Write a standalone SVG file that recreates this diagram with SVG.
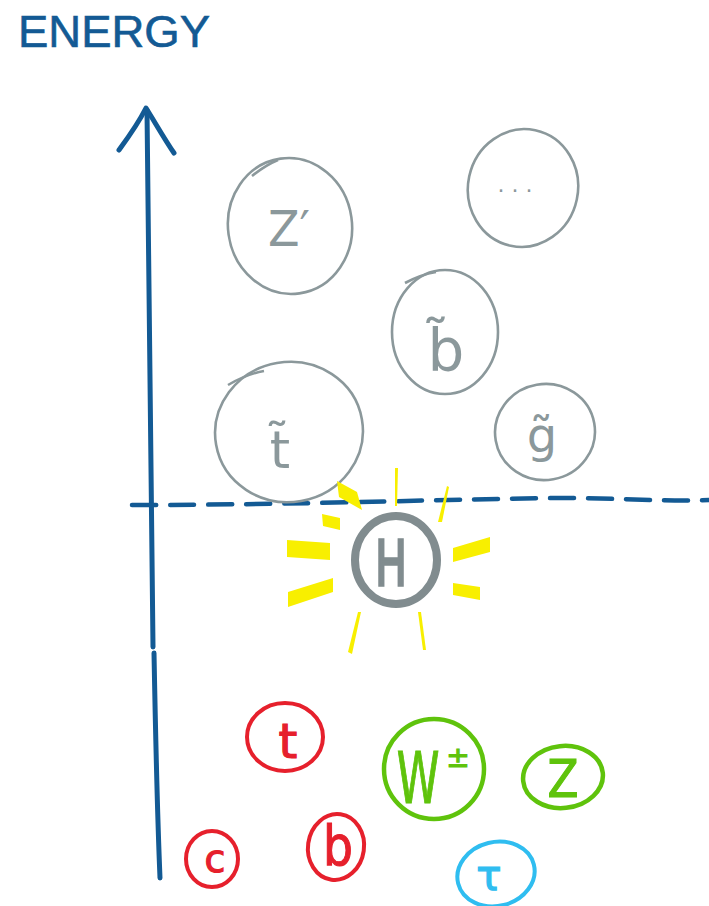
<svg xmlns="http://www.w3.org/2000/svg" width="709" height="906" viewBox="0 0 709 906">
<style>
.ax{fill:none;stroke:#135a94;stroke-width:5;stroke-linecap:round;stroke-linejoin:round}
.dash{fill:none;stroke:#135a94;stroke-width:4.5;stroke-linecap:round;stroke-dasharray:24 14}
.gc{fill:none;stroke:#8b989b;stroke-width:2.6}
.gt{fill:#8b989b;font-family:"DejaVu Sans",sans-serif;text-anchor:middle}
.ray{fill:#f8ef00}
.red{fill:none;stroke:#e6202c;stroke-width:4}
.grn{fill:none;stroke:#5fc30c;stroke-width:4.5}
.blu{fill:none;stroke:#2fbdf0;stroke-width:4}
.lt{font-family:"DejaVu Sans",sans-serif;text-anchor:middle;stroke-width:1.2}
</style>
<rect width="709" height="906" fill="#ffffff"/>
<g id="title">
<text x="18" y="47" font-family="Liberation Sans, sans-serif" font-size="45" fill="#135a94" stroke="#135a94" stroke-width="0.6" textLength="192" lengthAdjust="spacingAndGlyphs">ENERGY</text>
</g>
<g id="connectors">
<path class="ax" d="M147,110 C149,300 150,480 153,647"/>
<path class="ax" d="M154,653 C156,760 158,830 160,878"/>
<path class="ax" d="M119,150 C130,135 140,120 146,108 C156,124 165,140 174,153"/>
<path class="dash" d="M132,505 C300,505 450,499 560,498 C620,498 670,502 709,500"/>
</g>
<g id="node-zprime">
<ellipse class="gc" cx="290" cy="226" rx="62" ry="68" transform="rotate(-8 290 226)"/>
<path class="gc" d="M252,176 C262,168 268,164 278,160"/>
<text class="gt" x="289" y="246" font-size="50" textLength="42" lengthAdjust="spacingAndGlyphs">Z′</text>
</g>
<g id="node-dots">
<ellipse class="gc" cx="523" cy="188" rx="55" ry="59" transform="rotate(12 523 188)"/>
<text class="gt" x="515" y="192" font-size="22">. . .</text>
</g>
<g id="node-sbottom">
<ellipse class="gc" cx="445" cy="332" rx="53" ry="62"/>
<path class="gc" d="M405,283 C418,276 430,273 436,272"/>
<text class="gt" x="446" y="371" font-size="58">b̃</text>
</g>
<g id="node-stop">
<ellipse class="gc" cx="289" cy="432" rx="74" ry="70" transform="rotate(-10 289 432)"/>
<path class="gc" d="M228,385 C240,378 252,373 264,371"/>
<text class="gt" x="280" y="468" font-size="52">t̃</text>
</g>
<g id="node-sgluon">
<ellipse class="gc" cx="545" cy="432" rx="50" ry="48" transform="rotate(-10 545 432)"/>
<text class="gt" x="542" y="452" font-size="48">g̃</text>
</g>
<g id="node-higgs">
<polygon class="ray" points="337,481 357,492 362,510 339,497"/>
<polygon class="ray" points="395,468 398,468 397,506 395,506"/>
<polygon class="ray" points="447,486 449,487 442,522 438,522"/>
<polygon class="ray" points="322,514 340,518 340,530 323,526"/>
<polygon class="ray" points="287,540 330,543 330,560 287,557"/>
<polygon class="ray" points="288,592 333,578 333,592 288,607"/>
<polygon class="ray" points="453,548 490,537 490,552 453,562"/>
<polygon class="ray" points="453,583 480,587 480,600 453,595"/>
<polygon class="ray" points="358,612 361,612 352,654 348,652"/>
<polygon class="ray" points="418,612 421,612 426,650 423,650"/>
<ellipse cx="396" cy="560" rx="41" ry="44" fill="none" stroke="#818c8f" stroke-width="8"/>
<text x="391" y="585" font-family="Liberation Sans, sans-serif" font-size="64" fill="#818c8f" stroke="#818c8f" stroke-width="3.5" text-anchor="middle" textLength="30" lengthAdjust="spacingAndGlyphs">H</text>
</g>
<g id="node-top">
<ellipse class="red" cx="285" cy="737" rx="38" ry="34"/>
<text class="lt" x="288" y="758" font-size="48" fill="#e6202c" stroke="#e6202c">t</text>
</g>
<g id="node-wboson">
<ellipse class="grn" cx="434" cy="769" rx="50" ry="50"/>
<text class="lt" x="0" y="0" font-size="72" fill="#5fc30c" stroke="#5fc30c" transform="translate(418 803) scale(0.6 1)">W</text>
<text class="lt" x="458" y="767" font-size="28" fill="#5fc30c" stroke="#5fc30c">±</text>
</g>
<g id="node-zboson">
<ellipse class="grn" cx="563" cy="777" rx="40" ry="31" transform="rotate(-6 563 777)"/>
<text class="lt" x="563" y="797" font-size="52" fill="#5fc30c" stroke="#5fc30c" textLength="31" lengthAdjust="spacingAndGlyphs">Z</text>
</g>
<g id="node-charm">
<ellipse class="red" cx="212" cy="859" rx="26" ry="28"/>
<text class="lt" x="215" y="872" font-size="38" fill="#e6202c" stroke="#e6202c">c</text>
</g>
<g id="node-bottom">
<ellipse class="red" cx="336" cy="847" rx="28" ry="33" transform="rotate(8 336 847)"/>
<text class="lt" x="338" y="865" font-size="56" fill="#e6202c" stroke="#e6202c" textLength="30" lengthAdjust="spacingAndGlyphs">b</text>
</g>
<g id="node-tau">
<ellipse class="blu" cx="496" cy="874" rx="39" ry="32" transform="rotate(-14 496 874)"/>
<text class="lt" x="489" y="890" font-size="42" fill="#2fbdf0" stroke="#2fbdf0">τ</text>
</g>
</svg>
